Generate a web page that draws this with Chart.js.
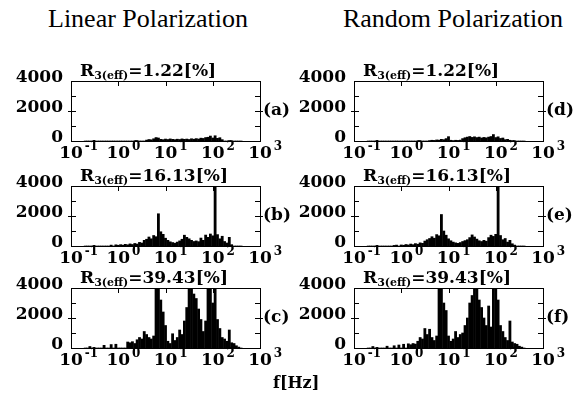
<!DOCTYPE html>
<html>
<head>
<meta charset="utf-8">
<script src="https://cdn.jsdelivr.net/npm/chart.js@4.4.1/dist/chart.umd.min.js"></script>
<style>
  html, body { margin: 0; padding: 0; background: #fff; }
  #wrap { position: relative; width: 574px; height: 394px; overflow: hidden; }
  canvas { position: absolute; }
  .head { position: absolute; top: 4px; width: 300px; text-align: center; font: 26px "Liberation Serif", serif; color: #000; white-space: nowrap; }
  #fhz { position: absolute; left: 273px; top: 373px; font: bold 16px "DejaVu Serif", serif; }
</style>
</head>
<body>
<div id="wrap">
  <div class="head" style="left:-2px">Linear Polarization</div>
  <div class="head" style="left:303px">Random Polarization</div>
  <canvas id="chart-a" width="300" height="110" style="left:0;top:58px"></canvas>
  <canvas id="chart-d" width="300" height="110" style="left:283px;top:58px"></canvas>
  <canvas id="chart-b" width="300" height="110" style="left:0;top:163px"></canvas>
  <canvas id="chart-e" width="300" height="110" style="left:283px;top:163px"></canvas>
  <canvas id="chart-c" width="300" height="110" style="left:0;top:265px"></canvas>
  <canvas id="chart-f" width="300" height="110" style="left:283px;top:265px"></canvas>
  <div id="fhz">f[Hz]</div>
</div>
<script>
// frequency bins [Hz]
const freqs = [
  0.200, 0.224, 0.251, 0.282, 0.316, 0.355, 0.398, 0.447, 0.501, 0.562,
  0.631, 0.708, 0.794, 0.891, 1.000, 1.122, 1.259, 1.413, 1.585, 1.778,
  1.995, 2.239, 2.512, 2.818, 3.162, 3.548, 3.981, 4.467, 5.012, 5.623,
  6.310, 7.079, 7.943, 8.913, 10.00, 11.22, 12.59, 14.13, 15.85, 17.78,
  19.95, 22.39, 25.12, 28.18, 31.62, 35.48, 39.81, 44.67, 50.12, 56.23,
  63.10, 70.79, 79.43, 89.13, 100.0, 112.2, 125.9, 141.3, 158.5, 177.8,
  199.5, 223.9, 251.2, 281.8, 316.2, 354.8, 398.1
];

// linear polarization
const specA = [
  0, 0, 0, 0, 0, 0, 0, 0, 0, 0,
  0, 0, 0, 0, 0, 0, 0, 0, 0, 0,
  0, 0, 0, 0, 0, 0, 60, 100, 80, 150,
  230, 200, 110, 90, 130, 100, 140, 110, 90, 120,
  100, 140, 110, 130, 100, 150, 120, 160, 130, 190,
  170, 230, 250, 330, 200, 350, 180, 220, 90, 0,
  0, 0, 0, 0, 0, 0, 0
];
const specB = [
  0, 0, 0, 0, 0, 0, 0, 0, 0, 0,
  0, 60, 0, 80, 50, 90, 60, 110, 80, 140,
  100, 170, 130, 240, 200, 380, 450, 600, 480, 700,
  620, 2150, 950, 780, 520, 380, 280, 230, 190, 260,
  340, 450, 720, 580, 480, 380, 300, 340, 290, 530,
  380, 730, 580, 800, 680, 4000, 760, 480, 650, 300,
  200, 580, 90, 0, 0, 0, 0
];
const specC = [
  0, 0, 100, 0, 0, 0, 0, 0, 180, 0,
  0, 230, 0, 250, 0, 0, 0, 0, 400, 350,
  420, 300, 550, 700, 600, 1100, 900, 700, 600, 800,
  4000, 4000, 3200, 2400, 1500, 450, 300, 950, 500, 700,
  1200, 900, 1800, 2700, 4000, 4000, 3600, 3300, 2600, 1900,
  1100, 1800, 4000, 4000, 3000, 4000, 1900, 1300, 700, 600,
  450, 1200, 350, 300, 150, 60, 0
];

// random polarization
const specD = [
  0, 0, 0, 0, 0, 0, 0, 0, 0, 0,
  0, 0, 0, 0, 0, 0, 0, 0, 0, 0,
  0, 0, 0, 0, 0, 0, 30, 50, 40, 70,
  60, 110, 90, 160, 290, 50, 30, 50, 40, 60,
  160, 220, 260, 300, 240, 280, 230, 260, 200, 240,
  210, 260, 300, 430, 230, 280, 170, 200, 90, 110,
  50, 0, 0, 0, 0, 0, 0
];
const specE = [
  0, 0, 0, 0, 0, 0, 0, 0, 0, 0,
  0, 40, 60, 0, 70, 50, 100, 70, 130, 90,
  160, 120, 210, 180, 330, 420, 500, 620, 520, 760,
  680, 2100, 1000, 720, 480, 350, 260, 210, 180, 230,
  300, 360, 420, 560, 740, 600, 460, 350, 300, 380,
  320, 560, 720, 640, 780, 4000, 700, 420, 500, 260,
  380, 150, 60, 0, 0, 0, 0
];
const specF = [
  0, 0, 100, 0, 0, 0, 0, 0, 120, 0,
  0, 150, 0, 200, 0, 250, 0, 280, 220, 300,
  260, 450, 700, 600, 1300, 900, 1250, 700, 500, 800,
  4000, 4000, 3000, 2500, 800, 450, 600, 1100, 700, 900,
  1000, 1500, 2000, 3000, 3500, 4000, 4000, 3200, 2700, 2000,
  1500, 2800, 1400, 4000, 4000, 3200, 1500, 1100, 700, 500,
  1800, 400, 300, 250, 120, 60, 0
];

const rValues = ['1.22', '16.13', '39.43'];
const tags = ['(a)', '(b)', '(c)', '(d)', '(e)', '(f)'];
const xTickValues = [0.1, 1, 10, 100, 1000];
const xTickExps = ['-1', '0', '1', '2', '3'];
const yTicks = [0, 2000, 4000];

const FONT = '"DejaVu Serif", serif';

const panelDecor = {
  id: 'panelDecor',
  afterDatasetsDraw(chart, args, opts) {
    const { ctx, chartArea: a } = chart;
    const y = chart.scales.y, x = chart.scales.x;
    ctx.save();
    ctx.strokeStyle = '#000';
    ctx.lineWidth = 1;
    ctx.strokeRect(Math.round(a.left) + 0.5, Math.round(a.top) + 0.5,
      Math.round(a.right - a.left), Math.round(a.bottom - a.top));
    ctx.beginPath();
    [1000, 2000, 3000].forEach(v => {
      const py = Math.round(y.getPixelForValue(v)) + 0.5;
      const out = v === 2000 ? 3 : 0;
      ctx.moveTo(a.left - out, py); ctx.lineTo(a.left + 5, py);
      ctx.moveTo(a.right + out, py); ctx.lineTo(a.right - 5, py);
    });
    [1, 10, 100].forEach(v => {
      const px = Math.round(x.getPixelForValue(v)) + 0.5;
      ctx.moveTo(px, a.top); ctx.lineTo(px, a.top + 5);
    });
    ctx.stroke();

    ctx.fillStyle = '#000';
    ctx.textBaseline = 'alphabetic';

    // exponents of the x tick labels
    ctx.font = 'bold 17px ' + FONT;
    const half = ctx.measureText('10').width / 2;
    ctx.font = 'bold 12px ' + FONT;
    xTickValues.forEach((v, i) => {
      const px = x.getPixelForValue(v) + 2 + half;
      ctx.fillText(xTickExps[i], px, a.bottom + 9);
    });

    // R3(eff) title
    let tx = a.left + 9;
    const ty = a.top - 5;
    ctx.font = 'bold 17px ' + FONT;
    ctx.fillText('R', tx, ty);
    tx += ctx.measureText('R').width;
    ctx.font = 'bold 11px ' + FONT;
    ctx.fillText('3(eff)', tx, ty + 3);
    tx += ctx.measureText('3(eff)').width;
    ctx.font = 'bold 17px ' + FONT;
    ctx.fillText('=' + opts.r + '[%]', tx, ty);

    // panel tag
    ctx.textBaseline = 'middle';
    ctx.fillText(opts.tag, a.right + 3, y.getPixelForValue(2000));
    ctx.restore();
  }
};

function makePanel(id, values, r, tag) {
  const ctx = document.getElementById(id);
  return new Chart(ctx, {
    type: 'bar',
    data: {
      datasets: [{
        data: freqs.map((f, i) => ({ x: f, y: values[i] })),
        backgroundColor: '#000',
        borderWidth: 0,
        barPercentage: 1,
        categoryPercentage: 1
      }]
    },
    options: {
      responsive: false,
      devicePixelRatio: 1,
      animation: false,
      layout: { padding: { top: 23, right: 40, left: 0, bottom: 0 } },
      scales: {
        x: {
          type: 'logarithmic',
          min: 0.1,
          max: 1000,
          grid: { display: false, drawTicks: false },
          border: { display: false },
          ticks: {
            autoSkip: false,
            maxRotation: 0,
            minRotation: 0,
            padding: 2,
            color: '#000',
            font: { family: FONT, size: 17, weight: 'bold' },
            callback: v => xTickValues.some(t => Math.abs(t - v) < 1e-9 * t) ? '10' : ''
          },
          afterFit: s => { s.height = 27; }
        },
        y: {
          min: 0,
          max: 4000,
          grid: { display: false, drawTicks: false },
          border: { display: false },
          afterBuildTicks: s => { s.ticks = yTicks.map(v => ({ value: v })); },
          ticks: {
            padding: 8,
            labelOffset: -3,
            color: '#000',
            font: { family: FONT, size: 17, weight: 'bold' },
            callback: v => String(v)
          },
          afterFit: s => { s.width = 71; }
        }
      },
      plugins: {
        legend: { display: false },
        tooltip: { enabled: false },
        panelDecor: { r: r, tag: tag }
      }
    },
    plugins: [panelDecor]
  });
}

makePanel('chart-a', specA, rValues[0], tags[0]);
makePanel('chart-b', specB, rValues[1], tags[1]);
makePanel('chart-c', specC, rValues[2], tags[2]);
makePanel('chart-d', specD, rValues[0], tags[3]);
makePanel('chart-e', specE, rValues[1], tags[4]);
makePanel('chart-f', specF, rValues[2], tags[5]);
</script>
</body>
</html>
